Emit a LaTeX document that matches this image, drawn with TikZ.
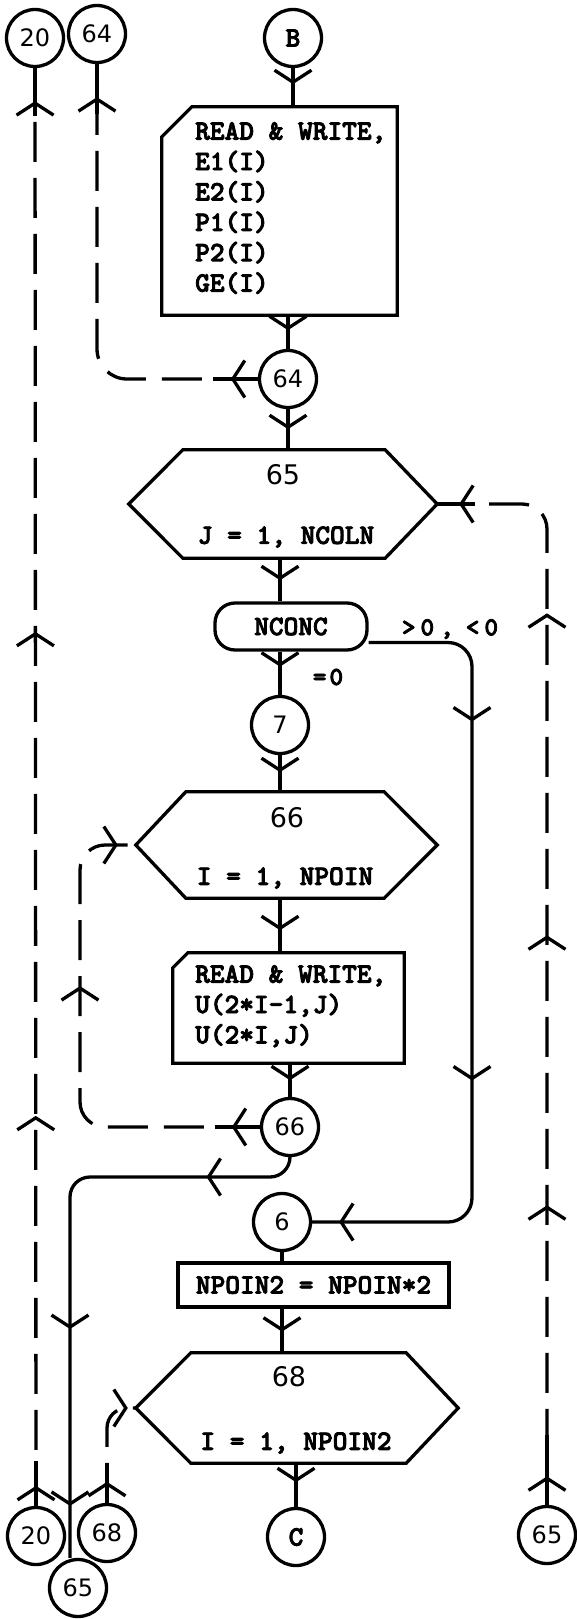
\documentclass[tikz,border=0pt]{standalone}
\usepackage{fontspec}
\usetikzlibrary{arrows.meta,decorations.markings}
\newfontfamily\typed{lmmonolt10-bold.otf}[FakeBold=3]
\newfontfamily\hand{DejaVu Sans}

\tikzset{
  flow/.style={line width=3.3pt},
  link/.style={line width=3.3pt,dash pattern=on 40pt off 16pt},
  midarrow/.style={postaction={decorate,decoration={markings,
      mark=at position #1 with {\arrow{Straight Barb[length=12pt,width=37pt]}}}}},
  conn/.style={circle,draw,line width=3.3pt,minimum size=57pt,inner sep=0pt,
      font=\hand\fontsize{24}{24}\selectfont},
  lettered/.style={conn,font=\typed\fontsize{28}{28}\selectfont},
  box/.style={rectangle,inner sep=0pt},
  typedtext/.style={inner sep=0pt,font=\typed\fontsize{28}{30.4}\selectfont},
  hexnum/.style={inner sep=0pt,font=\hand\fontsize{27}{27}\selectfont},
  cond/.style={inner sep=0pt,font=\typed\fontsize{26}{26}\selectfont}
}

\begin{document}
\begin{tikzpicture}[x=1pt,y=-1pt]
\useasboundingbox (0,0) rectangle (577,1619);

% off-page connectors
\node[conn] (c20t) at (35,38) {20};
\node[conn] (c64t) at (97,34) {64};
\node[lettered] (cB) at (293,38) {B};
\node[conn] (c64) at (288,379) {64};
\node[conn] (c7) at (280,725) {7};
\node[conn] (c66) at (290,1127) {66};
\node[conn] (c6) at (282,1222) {6};
\node[lettered] (cC) at (296,1537) {C};
\node[conn] (c20b) at (36,1536) {20};
\node[conn] (c68b) at (107,1533) {68};
\node[conn] (c65b) at (78,1588) {65};
\node[conn] (c65r) at (547,1535) {65};

% read boxes
\node[box,minimum width=235pt,minimum height=208pt] (read1) at (279.5,211) {};
\draw[flow] ([yshift=-30pt]read1.north west) -- ([xshift=30pt]read1.north west)
  -- (read1.north east) -- (read1.south east) -- (read1.south west) -- cycle;
\node[typedtext,anchor=north west,align=left] (read1txt) at (195,122)
  {READ \& WRITE,\\E1(I)\\E2(I)\\P1(I)\\P2(I)\\GE(I)};

\node[box,minimum width=231pt,minimum height=110pt] (read2) at (288.5,1008) {};
\draw[flow] ([yshift=-15pt]read2.north west) -- ([xshift=15pt]read2.north west)
  -- (read2.north east) -- (read2.south east) -- (read2.south west) -- cycle;
\node[typedtext,anchor=north west,align=left] (read2txt) at (195,965)
  {READ \& WRITE,\\U(2*I-1,J)\\U(2*I,J)};

% decision and statement
\node[typedtext,draw,line width=3.3pt,rounded corners=20pt,minimum width=152pt,
  minimum height=47pt] (nconc) at (291,626.5) {NCONC};
\node[typedtext,draw,line width=3.3pt,minimum width=271pt,minimum height=44pt]
  (npoin) at (313.5,1285) {NPOIN2 = NPOIN*2};

% DO loops
\node[box,minimum width=202pt,minimum height=108pt] (loop65) at (284,504) {};
\coordinate (tip65l) at ([xshift=-54pt]loop65.west);
\coordinate (tip65r) at ([xshift=52pt]loop65.east);
\draw[flow] (loop65.north west) -- (loop65.north east) -- (tip65r)
  -- (loop65.south east) -- (loop65.south west) -- (tip65l) -- cycle;
\node[hexnum] (n65) at (283,475) {65};
\node[typedtext] (t65) at (286,537) {J = 1, NCOLN};

\node[box,minimum width=198pt,minimum height=106pt] (loop66) at (285,845) {};
\coordinate (tip66l) at ([xshift=-50pt]loop66.west);
\coordinate (tip66r) at ([xshift=53pt]loop66.east);
\draw[flow] (loop66.north west) -- (loop66.north east) -- (tip66r)
  -- (loop66.south east) -- (loop66.south west) -- (tip66l) -- cycle;
\node[hexnum] (n66) at (287,818) {66};
\node[typedtext] (t66) at (285,878) {I = 1, NPOIN};

\node[box,minimum width=215pt,minimum height=110pt] (loop68) at (298.5,1408) {};
\coordinate (tip68l) at ([xshift=-55pt]loop68.west);
\coordinate (tip68r) at ([xshift=52pt]loop68.east);
\draw[flow] (loop68.north west) -- (loop68.north east) -- (tip68r)
  -- (loop68.south east) -- (loop68.south west) -- (tip68l) -- cycle;
\node[hexnum] (n68) at (289,1377) {68};
\node[typedtext] (t68) at (296,1443) {I = 1, NPOIN2};

% main flow
\draw[flow,midarrow=16pt] (cB.south) -- (cB.south |- read1.north);
\draw[flow,midarrow=15pt] (c64.north |- read1.south) -- (c64.north);
\draw[flow,midarrow=20pt] (c64.south) -- (c64.south |- loop65.north);
\draw[flow,midarrow=22pt] (c7.north |- loop65.south) -- (c7.north |- nconc.north);
\draw[flow,midarrow=15pt] (c7.north |- nconc.south) -- (c7.north);
\draw[flow,midarrow=17pt] (c7.south) -- (c7.south |- loop66.north);
\draw[flow,midarrow=32pt] (c7.south |- loop66.south) -- (c7.south |- read2.north);
\draw[flow,midarrow=17pt] (c66.north |- read2.south) -- (c66.north);
\draw[flow] (c6.south) -- (c6.south |- npoin.north);
\draw[flow,midarrow=23pt] (c6.south |- npoin.south) -- (c6.south |- loop68.north);
\draw[flow,midarrow=19pt] (cC.north |- loop68.south) -- (cC.north);

\node[cond] (gt) at (450,629) {>\hspace{5pt}0\hspace{6pt},\hspace{12pt}<\hspace{5pt}0};
\node[cond] (eq) at (328,677) {=\hspace{3pt}0};

% branches
\coordinate (j65) at (70,1177);
\draw[flow,rounded corners=24pt,midarrow=172pt,midarrow=531pt,midarrow=-27pt]
  ([yshift=-16pt]nconc.east) -| (472,1222) -- (c6.east);
\draw[flow,rounded corners=20pt,midarrow=95pt,midarrow=375pt,midarrow=-52pt]
  (c66.south) |- (j65) -- (j65 |- c65b.north);

% loop returns and off-page links
\draw[link,midarrow=20pt,midarrow=390pt,midarrow=874pt,midarrow=-33pt]
  (c20b.north) -- (c20t.south);
\draw[link,rounded corners=30pt,midarrow=27pt,midarrow=-33pt]
  (c64.west) -| (c64t.south);
\draw[link,rounded corners=25pt,midarrow=28pt,midarrow=310pt,midarrow=-18pt]
  (c66.west) -| (80,845) -- (tip66l);
\draw[link,rounded corners=20pt,midarrow=21pt,midarrow=-8pt]
  (c68b.north) |- (tip68l);
\draw[link,rounded corners=25pt,midarrow=28.5pt,midarrow=299.5pt,midarrow=569.5pt,
  midarrow=891.5pt,midarrow=-22pt] (c65r.north) |- (tip65r);

% solid ends of the dashed links
\draw[flow] (c20t.south) -- ++(0,48);
\draw[flow] (c64t.south) -- ++(0,50);
\draw[flow] (c20b.north) -- ++(0,-45);
\draw[flow] (c68b.north) -- ++(0,-40);
\draw[flow] (c65r.north) -- ++(0,-70);
\draw[flow] (c64.west) -- ++(-45,0);
\draw[flow] (c66.west) -- ++(-45,0);
\draw[flow] (tip65r) -- ++(38,0);
\end{tikzpicture}
\end{document}
